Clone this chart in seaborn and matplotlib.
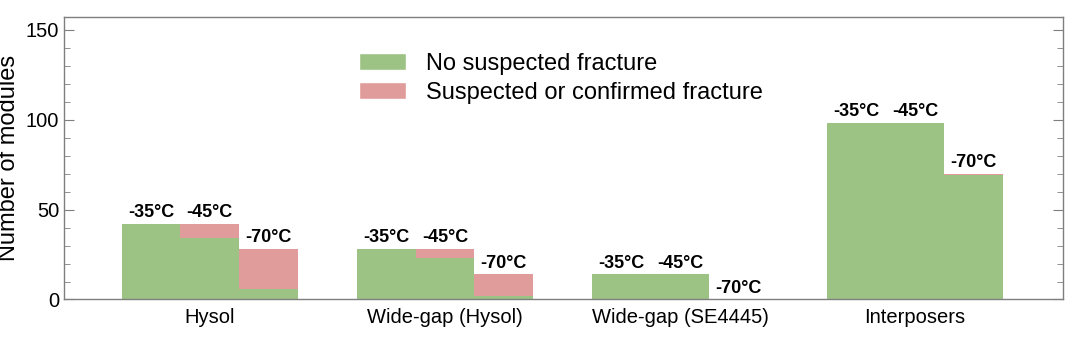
import pandas as pd
import matplotlib
matplotlib.use("Agg")
import matplotlib.pyplot as plt
import matplotlib.patches as mpatches
from matplotlib.ticker import MultipleLocator
import seaborn as sns


categories = ["Hysol", "Wide-gap (Hysol)", "Wide-gap (SE4445)", "Interposers"]
temperatures = ["-35°C", "-45°C", "-70°C"]

# modules per category, in temperature order
no_fracture = [
    [42, 34, 6],
    [28, 23, 2],
    [14, 14, 0],
    [98, 98, 69],
]
fracture = [
    [0, 8, 22],
    [0, 5, 12],
    [0, 0, 0],
    [0, 0, 1],
]

GREEN = "#9dc384"
RED = "#e09c9b"


def build_frame():
    rows = []
    for i, cat in enumerate(categories):
        for j, temp in enumerate(temperatures):
            ok = no_fracture[i][j]
            bad = fracture[i][j]
            rows.append({"category": cat, "temp": temp,
                         "ok": ok, "total": ok + bad})
    return pd.DataFrame(rows)


def main():
    df = build_frame()

    sns.set_style("ticks")
    plt.rcParams["font.family"] = ["Liberation Sans", "DejaVu Sans"]
    plt.rcParams["text.color"] = "black"
    plt.rcParams["axes.labelcolor"] = "black"

    fig = plt.figure(figsize=(10.8, 3.46), dpi=100)
    ax = fig.add_axes([0.0593, 0.1344, 0.9247, 0.8165])

    sns.barplot(data=df, x="category", y="total", hue="temp",
                hue_order=temperatures, saturation=1,
                palette=[RED] * 3, width=0.75, gap=0, linewidth=0,
                legend=False, ax=ax)
    n_total = len(ax.patches)
    sns.barplot(data=df, x="category", y="ok", hue="temp",
                hue_order=temperatures, saturation=1,
                palette=[GREEN] * 3, width=0.75, gap=0, linewidth=0,
                legend=False, ax=ax)

    # temperature labels above each stacked bar
    for patch in ax.patches[:n_total]:
        x = patch.get_x() + patch.get_width() / 2
        j = int(round((x - round(x)) / 0.25)) + 1
        ax.annotate(temperatures[j], (x, patch.get_height()),
                    xytext=(0, 2), textcoords="offset points",
                    ha="center", va="bottom",
                    fontsize=13, fontweight="bold")

    ax.set_xlim(-0.62, 3.628)
    ax.set_ylim(0, 157)
    ax.set_xlabel("")
    ax.set_ylabel("Number of modules", fontsize=17)

    ax.yaxis.set_major_locator(MultipleLocator(50))
    ax.yaxis.set_minor_locator(MultipleLocator(10))
    ax.tick_params(axis="y", which="both", direction="in",
                   right=True, colors="#7f7f7f", labelcolor="black",
                   labelsize=14.5)
    ax.tick_params(axis="y", which="major", length=7)
    ax.tick_params(axis="y", which="minor", length=4)
    ax.tick_params(axis="x", length=0, labelsize=14.5, pad=6,
                   labelcolor="black")

    for spine in ax.spines.values():
        spine.set_visible(True)
        spine.set_color("#7f7f7f")
        spine.set_linewidth(1.0)

    handles = [
        mpatches.Patch(facecolor=GREEN, label="No suspected fracture"),
        mpatches.Patch(facecolor=RED, label="Suspected or confirmed fracture"),
    ]
    ax.legend(handles=handles, loc="upper left",
              bbox_to_anchor=(0.274, 0.948), frameon=False,
              fontsize=17, handlelength=2.0, handleheight=0.75,
              handletextpad=0.85, labelspacing=0.3)

    fig.savefig("out.png", dpi=100)
    plt.close(fig)


if __name__ == "__main__":
    main()
